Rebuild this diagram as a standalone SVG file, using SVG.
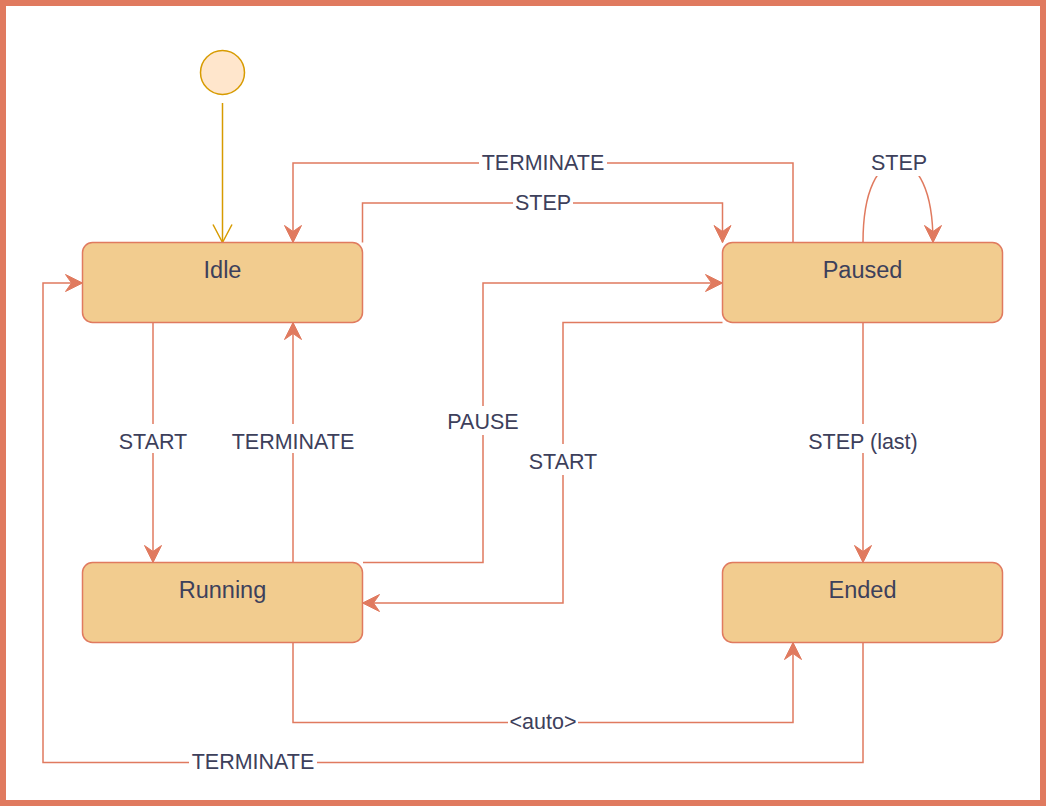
<svg xmlns="http://www.w3.org/2000/svg" width="1046" height="806" viewBox="0 0 1046 806">
<style>
.node rect{fill:#f2cc8f;stroke:#e07a5f;stroke-width:1.5}
.node text{font-family:"Liberation Sans",Arial,sans-serif;font-size:23.5px;fill:#3d405b;text-anchor:middle}
.edge{fill:none;stroke:#e07a5f;stroke-width:1.5}
.lbl rect{fill:#ffffff}
.lbl text{font-family:"Liberation Sans",Arial,sans-serif;font-size:21.5px;fill:#3d405b;text-anchor:middle}
</style>
<defs>
<marker id="arr" viewBox="-18 -10 20 20" markerWidth="20" markerHeight="20" refX="0" refY="0" orient="auto" markerUnits="userSpaceOnUse">
<path d="M0,0 L-17,-8.5 L-11,0 L-17,8.5 Z" fill="#e07a5f" stroke="#e07a5f" stroke-width="1"/>
</marker>
<marker id="open" viewBox="-20 -11 22 22" markerWidth="22" markerHeight="22" refX="0" refY="0" orient="auto" markerUnits="userSpaceOnUse">
<path d="M-18,-9.5 L0,0 L-18,9.5" fill="none" stroke="#d79b00" stroke-width="1.5"/>
</marker>
</defs>
<rect x="3" y="3" width="1040" height="800" fill="#ffffff" stroke="#e07a5f" stroke-width="6"/>
<g id="connectors">
<path class="edge" d="M222.5,103 L222.5,242.5" style="stroke:#d79b00" marker-end="url(#open)"/>
<path class="edge" d="M362.5,242.5 L362.5,203 L722.5,203 L722.5,242.5" marker-end="url(#arr)"/>
<path class="edge" d="M793,242.5 L793,163 L293,163 L293,242.5" marker-end="url(#arr)"/>
<path class="edge" d="M863,242.5 C863,190 878,163 898,163 C918,163 933,190 933,242.5" marker-end="url(#arr)"/>
<path class="edge" d="M153,322.5 L153,562.5" marker-end="url(#arr)"/>
<path class="edge" d="M293,562.5 L293,322.5" marker-end="url(#arr)"/>
<path class="edge" d="M363,562.5 L483,562.5 L483,283 L722.5,283" marker-end="url(#arr)"/>
<path class="edge" d="M722.5,322.5 L563,322.5 L563,603 L362.5,603" marker-end="url(#arr)"/>
<path class="edge" d="M863,322.5 L863,562.5" marker-end="url(#arr)"/>
<path class="edge" d="M293,642.5 L293,722.5 L793,722.5 L793,642.5" marker-end="url(#arr)"/>
<path class="edge" d="M863,642.5 L863,762.5 L43,762.5 L43,283 L82.5,283" marker-end="url(#arr)"/>
<g class="lbl"><rect x="479" y="150" width="128" height="26"/><text x="543" y="170">TERMINATE</text></g>
<g class="lbl"><rect x="513" y="190" width="60" height="26"/><text x="543" y="210">STEP</text></g>
<g class="lbl"><rect x="868" y="146" width="62" height="30"/><text x="899" y="170">STEP</text></g>
<g class="lbl"><rect x="116" y="424" width="74" height="29"/><text x="153" y="449">START</text></g>
<g class="lbl"><rect x="229" y="424" width="128" height="29"/><text x="293" y="449">TERMINATE</text></g>
<g class="lbl"><rect x="445" y="406" width="76" height="29"/><text x="483" y="429">PAUSE</text></g>
<g class="lbl"><rect x="526" y="444" width="74" height="31"/><text x="563" y="469">START</text></g>
<g class="lbl"><rect x="805" y="424" width="116" height="29"/><text x="863" y="449">STEP (last)</text></g>
<g class="lbl"><rect x="508" y="709" width="70" height="26"/><text x="543" y="729">&lt;auto&gt;</text></g>
<g class="lbl"><rect x="189" y="749" width="128" height="26"/><text x="253" y="769">TERMINATE</text></g>
</g>
<g id="initial"><circle cx="222.5" cy="72.5" r="22" fill="#ffe6cc" stroke="#d79b00" stroke-width="1.5"/></g>
<g id="idle" class="node"><rect x="82.5" y="242.5" width="280" height="80" rx="10"/><text x="222.5" y="278">Idle</text></g>
<g id="paused" class="node"><rect x="722.5" y="242.5" width="280" height="80" rx="10"/><text x="862.5" y="278">Paused</text></g>
<g id="running" class="node"><rect x="82.5" y="562.5" width="280" height="80" rx="10"/><text x="222.5" y="598">Running</text></g>
<g id="ended" class="node"><rect x="722.5" y="562.5" width="280" height="80" rx="10"/><text x="862.5" y="598">Ended</text></g>
</svg>
